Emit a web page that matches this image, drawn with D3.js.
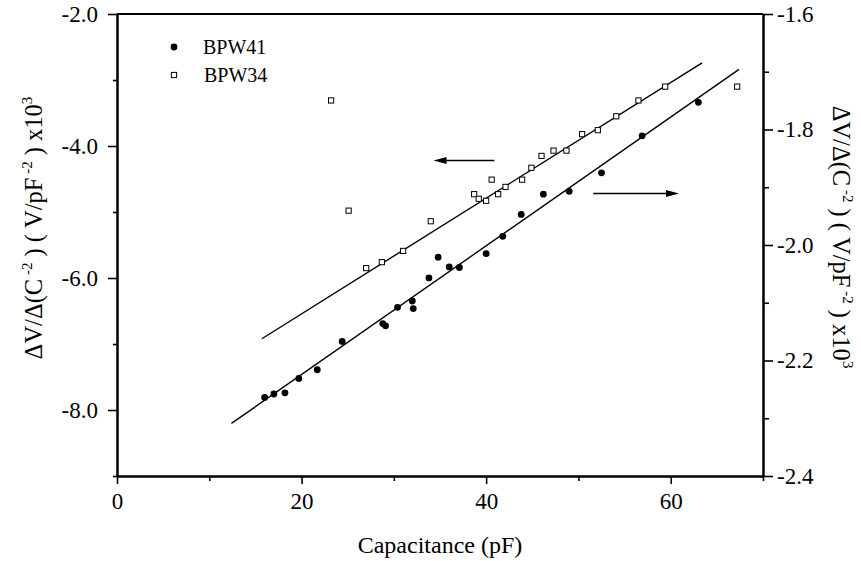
<!DOCTYPE html>
<html>
  <head>
    <meta charset="utf-8" />
    <script src="https://d3js.org/d3.v7.min.js"></script>
    <style>
      body { margin: 0; background: #fff; }
      .axis path, .axis line { stroke: #000; }
      .axis path { stroke-width: 2px; }
      .axis line { stroke-width: 1.6px; }
    </style>
  </head>
  <body>
    <svg id="chart" width="861" height="561"></svg>
    <script>
      // BPW34 (open squares) read against the left axis
      const bpw34C = [23.2, 25.1, 27.0, 28.7, 31.0, 34.0, 38.7, 39.2, 40.0, 40.6, 41.3, 42.1,
                      43.9, 44.9, 46.0, 47.3, 48.7, 50.4, 52.1, 54.1, 56.5, 59.4, 67.2];
      const bpw34V = [-3.31, -4.98, -5.85, -5.76, -5.59, -5.14, -4.73, -4.80, -4.83, -4.51, -4.73, -4.62,
                      -4.51, -4.33, -4.15, -4.07, -4.07, -3.82, -3.76, -3.55, -3.31, -3.10, -3.10];

      // BPW41 (filled circles) read against the right axis
      const bpw41C = [16.0, 17.0, 18.2, 19.7, 21.7, 24.4, 28.8, 29.1, 30.4, 32.0, 32.1, 33.8,
                      34.8, 36.0, 37.1, 40.0, 41.8, 43.8, 46.2, 49.0, 52.5, 56.9, 63.0];
      const bpw41V = [-2.264, -2.258, -2.256, -2.231, -2.216, -2.167, -2.136, -2.140, -2.108, -2.097, -2.110, -2.057,
                      -2.021, -2.038, -2.039, -2.015, -1.985, -1.947, -1.912, -1.907, -1.875, -1.811, -1.753];

      // fitted lines (end points)
      const fit34 = [[15.7, -6.92], [63.4, -2.74]];
      const fit41 = [[12.4, -2.309], [67.4, -1.696]];

      // arrows pointing to the axis each series uses (left axis units)
      const arrowLeft = [[40.9, -4.22], [34.3, -4.22]];
      const arrowRight = [[51.6, -4.72], [60.9, -4.72]];

      const xTicks = [0, 20, 40, 60];
      const xMinor = [10, 30, 50, 70];
      const yLeftTicks = [-8, -6, -4, -2];
      const yLeftMinor = [-9, -7, -5, -3];
      const yRightTicks = [-2.4, -2.2, -2.0, -1.8, -1.6];
      const yRightMinor = [-2.3, -2.1, -1.9, -1.7];

      const serif = "'Times New Roman', 'Liberation Serif', 'DejaVu Serif', serif";
      const svg = d3.select("#chart").attr("font-family", serif);
      const mLeft = 117, mRight = 763, mTop = 14, mBottom = 476;

      const x = d3.scaleLinear().domain([0, 70]).range([mLeft, mRight]);
      const yL = d3.scaleLinear().domain([-9, -2]).range([mBottom, mTop]);
      const yR = d3.scaleLinear().domain([-2.4, -1.6]).range([mBottom, mTop]);
      const fmt = (d) => d.toFixed(1);

      // frame top
      svg.append("line").attr("x1", mLeft).attr("x2", mRight).attr("y1", mTop).attr("y2", mTop)
        .attr("stroke", "#000").attr("stroke-width", 2);

      // minor ticks
      svg.append("g").attr("class", "axis").attr("transform", `translate(0,${mBottom})`)
        .call(d3.axisBottom(x).tickValues(xMinor).tickSize(5).tickSizeOuter(0).tickFormat(""));
      svg.append("g").attr("class", "axis").attr("transform", `translate(${mLeft},0)`)
        .call(d3.axisLeft(yL).tickValues(yLeftMinor).tickSize(4).tickSizeOuter(0).tickFormat(""));
      svg.append("g").attr("class", "axis").attr("transform", `translate(${mRight},0)`)
        .call(d3.axisRight(yR).tickValues(yRightMinor).tickSize(6).tickSizeOuter(0).tickFormat(""));

      // major ticks
      svg.append("g").attr("class", "axis").attr("transform", `translate(0,${mBottom})`)
        .call(d3.axisBottom(x).tickValues(xTicks).tickSize(8).tickPadding(9).tickSizeOuter(0).tickFormat(d3.format("d")));
      svg.append("g").attr("class", "axis").attr("transform", `translate(${mLeft},0)`)
        .call(d3.axisLeft(yL).tickValues(yLeftTicks).tickSize(9).tickPadding(10).tickSizeOuter(0).tickFormat(fmt));
      svg.append("g").attr("class", "axis").attr("transform", `translate(${mRight},0)`)
        .call(d3.axisRight(yR).tickValues(yRightTicks).tickSize(10).tickPadding(4).tickSizeOuter(0).tickFormat(fmt));
      svg.selectAll(".axis").attr("font-family", serif).attr("font-size", 23);

      // fit lines
      const lineL = d3.line().x((d) => x(d[0])).y((d) => yL(d[1]));
      const lineR = d3.line().x((d) => x(d[0])).y((d) => yR(d[1]));
      svg.append("path").attr("d", lineL(fit34)).attr("stroke", "#000").attr("stroke-width", 1.4).attr("fill", "none");
      svg.append("path").attr("d", lineR(fit41)).attr("stroke", "#000").attr("stroke-width", 1.4).attr("fill", "none");

      // points
      const sq = 5.2;
      svg.append("g").selectAll("rect")
        .data(d3.zip(bpw34C, bpw34V))
        .join("rect")
        .attr("x", (d) => x(d[0]) - sq / 2)
        .attr("y", (d) => yL(d[1]) - sq / 2)
        .attr("width", sq).attr("height", sq)
        .attr("fill", "#fff").attr("stroke", "#000").attr("stroke-width", 1);

      svg.append("g").selectAll("circle")
        .data(d3.zip(bpw41C, bpw41V))
        .join("circle")
        .attr("cx", (d) => x(d[0]))
        .attr("cy", (d) => yR(d[1]))
        .attr("r", 3.4)
        .attr("fill", "#000");

      // arrows
      function arrow(pts) {
        const x0 = x(pts[0][0]), x1 = x(pts[1][0]), yy = yL(pts[0][1]);
        const dir = Math.sign(x1 - x0);
        svg.append("line").attr("x1", x0).attr("x2", x1 - dir * 8).attr("y1", yy).attr("y2", yy)
          .attr("stroke", "#000").attr("stroke-width", 1.4);
        svg.append("path")
          .attr("d", `M${x1},${yy}L${x1 - dir * 13},${yy - 3.5}L${x1 - dir * 13},${yy + 3.5}Z`)
          .attr("fill", "#000");
      }
      arrow(arrowLeft);
      arrow(arrowRight);

      // legend
      svg.append("circle").attr("cx", 174).attr("cy", 47).attr("r", 3.4).attr("fill", "#000");
      svg.append("text").attr("x", 203).attr("y", 54).attr("font-size", 20).text("BPW41");
      svg.append("rect").attr("x", 174 - sq / 2).attr("y", 75 - sq / 2).attr("width", sq).attr("height", sq)
        .attr("fill", "#fff").attr("stroke", "#000");
      svg.append("text").attr("x", 204).attr("y", 82).attr("font-size", 20).text("BPW34");

      // axis titles
      svg.append("text").attr("x", (mLeft + mRight) / 2).attr("y", 553)
        .attr("text-anchor", "middle").attr("font-size", 24).text("Capacitance (pF)");

      function yTitle(t) {
        t.append("tspan").text("ΔV/Δ(C");
        t.append("tspan").attr("dy", -10).attr("font-size", 15).text(" -2");
        t.append("tspan").attr("dy", 10).text(" )  ( V/pF");
        t.append("tspan").attr("dy", -10).attr("font-size", 15).text(" -2");
        t.append("tspan").attr("dy", 10).text(" ) x10");
        t.append("tspan").attr("dy", -10).attr("font-size", 15).text("3");
      }
      const tl = svg.append("text").attr("text-anchor", "middle").attr("font-size", 24.5)
        .attr("transform", "translate(42,228) rotate(-90)");
      yTitle(tl);
      const tr = svg.append("text").attr("text-anchor", "middle").attr("font-size", 24.5)
        .attr("transform", "translate(833,237) rotate(90)");
      yTitle(tr);
    </script>
  </body>
</html>
